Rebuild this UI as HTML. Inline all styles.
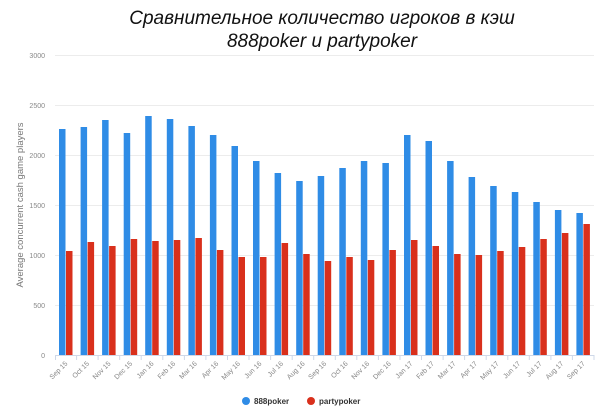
<!DOCTYPE html>
<html><head><meta charset="utf-8"><style>
body{margin:0;background:#fff;width:608px;height:413px;overflow:hidden}
svg{display:block;font-family:"Liberation Sans",sans-serif}
</style></head><body>
<svg width="608" height="413" xmlns="http://www.w3.org/2000/svg">
<text x="322" y="24" text-anchor="middle" font-size="19" font-style="italic" fill="#111">Сравнительное количество игроков в кэш</text>
<text x="322" y="47" text-anchor="middle" font-size="19" font-style="italic" fill="#111">888poker и partypoker</text>
<g stroke="#ececec" stroke-width="1">
<line x1="55" y1="55.5" x2="594" y2="55.5"/><line x1="55" y1="105.5" x2="594" y2="105.5"/><line x1="55" y1="155.5" x2="594" y2="155.5"/><line x1="55" y1="205.5" x2="594" y2="205.5"/><line x1="55" y1="255.5" x2="594" y2="255.5"/><line x1="55" y1="305.5" x2="594" y2="305.5"/>
</g>
<g font-size="7" fill="#888" text-anchor="end">
<text x="45" y="58">3000</text><text x="45" y="108">2500</text><text x="45" y="158">2000</text><text x="45" y="208">1500</text><text x="45" y="258">1000</text><text x="45" y="308">500</text><text x="45" y="358">0</text>
</g>
<text transform="translate(23,205) rotate(-90)" text-anchor="middle" font-size="9.5" fill="#777">Average concurrent cash game players</text>
<g fill="#2f8ce6">
<rect x="59" y="129" width="6.5" height="226"/><rect x="80.6" y="127" width="6.5" height="228"/><rect x="102.1" y="120" width="6.5" height="235"/><rect x="123.7" y="133" width="6.5" height="222"/><rect x="145.2" y="116" width="6.5" height="239"/><rect x="166.8" y="119" width="6.5" height="236"/><rect x="188.4" y="126" width="6.5" height="229"/><rect x="209.9" y="135" width="6.5" height="220"/><rect x="231.5" y="146" width="6.5" height="209"/><rect x="253" y="161" width="6.5" height="194"/><rect x="274.6" y="173" width="6.5" height="182"/><rect x="296.2" y="181" width="6.5" height="174"/><rect x="317.7" y="176" width="6.5" height="179"/><rect x="339.3" y="168" width="6.5" height="187"/><rect x="360.8" y="161" width="6.5" height="194"/><rect x="382.4" y="163" width="6.5" height="192"/><rect x="404" y="135" width="6.5" height="220"/><rect x="425.5" y="141" width="6.5" height="214"/><rect x="447.1" y="161" width="6.5" height="194"/><rect x="468.6" y="177" width="6.5" height="178"/><rect x="490.2" y="186" width="6.5" height="169"/><rect x="511.8" y="192" width="6.5" height="163"/><rect x="533.3" y="202" width="6.5" height="153"/><rect x="554.9" y="210" width="6.5" height="145"/><rect x="576.4" y="213" width="6.5" height="142"/>
</g>
<g fill="#d9301c">
<rect x="66" y="251" width="6.5" height="104"/><rect x="87.6" y="242" width="6.5" height="113"/><rect x="109.1" y="246" width="6.5" height="109"/><rect x="130.7" y="239" width="6.5" height="116"/><rect x="152.2" y="241" width="6.5" height="114"/><rect x="173.8" y="240" width="6.5" height="115"/><rect x="195.4" y="238" width="6.5" height="117"/><rect x="216.9" y="250" width="6.5" height="105"/><rect x="238.5" y="257" width="6.5" height="98"/><rect x="260" y="257" width="6.5" height="98"/><rect x="281.6" y="243" width="6.5" height="112"/><rect x="303.2" y="254" width="6.5" height="101"/><rect x="324.7" y="261" width="6.5" height="94"/><rect x="346.3" y="257" width="6.5" height="98"/><rect x="367.8" y="260" width="6.5" height="95"/><rect x="389.4" y="250" width="6.5" height="105"/><rect x="411" y="240" width="6.5" height="115"/><rect x="432.5" y="246" width="6.5" height="109"/><rect x="454.1" y="254" width="6.5" height="101"/><rect x="475.6" y="255" width="6.5" height="100"/><rect x="497.2" y="251" width="6.5" height="104"/><rect x="518.8" y="247" width="6.5" height="108"/><rect x="540.3" y="239" width="6.5" height="116"/><rect x="561.9" y="233" width="6.5" height="122"/><rect x="583.4" y="224" width="6.5" height="131"/>
</g>
<line x1="55" y1="355.5" x2="594" y2="355.5" stroke="#cfd8e8"/>
<g stroke="#cfd8e8">
<line x1="55.5" y1="355" x2="55.5" y2="360"/><line x1="76.6" y1="355" x2="76.6" y2="360"/><line x1="98.1" y1="355" x2="98.1" y2="360"/><line x1="119.7" y1="355" x2="119.7" y2="360"/><line x1="141.2" y1="355" x2="141.2" y2="360"/><line x1="162.8" y1="355" x2="162.8" y2="360"/><line x1="184.4" y1="355" x2="184.4" y2="360"/><line x1="205.9" y1="355" x2="205.9" y2="360"/><line x1="227.5" y1="355" x2="227.5" y2="360"/><line x1="249" y1="355" x2="249" y2="360"/><line x1="270.6" y1="355" x2="270.6" y2="360"/><line x1="292.2" y1="355" x2="292.2" y2="360"/><line x1="313.7" y1="355" x2="313.7" y2="360"/><line x1="335.3" y1="355" x2="335.3" y2="360"/><line x1="356.8" y1="355" x2="356.8" y2="360"/><line x1="378.4" y1="355" x2="378.4" y2="360"/><line x1="400" y1="355" x2="400" y2="360"/><line x1="421.5" y1="355" x2="421.5" y2="360"/><line x1="443.1" y1="355" x2="443.1" y2="360"/><line x1="464.6" y1="355" x2="464.6" y2="360"/><line x1="486.2" y1="355" x2="486.2" y2="360"/><line x1="507.8" y1="355" x2="507.8" y2="360"/><line x1="529.3" y1="355" x2="529.3" y2="360"/><line x1="550.9" y1="355" x2="550.9" y2="360"/><line x1="572.4" y1="355" x2="572.4" y2="360"/><line x1="594" y1="355" x2="594" y2="360"/>
</g>
<g font-size="7" fill="#888" text-anchor="end">
<text transform="translate(68,364) rotate(-45)">Sep 15</text><text transform="translate(89.6,364) rotate(-45)">Oct 15</text><text transform="translate(111.1,364) rotate(-45)">Nov 15</text><text transform="translate(132.7,364) rotate(-45)">Dec 15</text><text transform="translate(154.2,364) rotate(-45)">Jan 16</text><text transform="translate(175.8,364) rotate(-45)">Feb 16</text><text transform="translate(197.4,364) rotate(-45)">Mar 16</text><text transform="translate(218.9,364) rotate(-45)">Apr 16</text><text transform="translate(240.5,364) rotate(-45)">May 16</text><text transform="translate(262,364) rotate(-45)">Jun 16</text><text transform="translate(283.6,364) rotate(-45)">Jul 16</text><text transform="translate(305.2,364) rotate(-45)">Aug 16</text><text transform="translate(326.7,364) rotate(-45)">Sep 16</text><text transform="translate(348.3,364) rotate(-45)">Oct 16</text><text transform="translate(369.8,364) rotate(-45)">Nov 16</text><text transform="translate(391.4,364) rotate(-45)">Dec 16</text><text transform="translate(413,364) rotate(-45)">Jan 17</text><text transform="translate(434.5,364) rotate(-45)">Feb 17</text><text transform="translate(456.1,364) rotate(-45)">Mar 17</text><text transform="translate(477.6,364) rotate(-45)">Apr 17</text><text transform="translate(499.2,364) rotate(-45)">May 17</text><text transform="translate(520.8,364) rotate(-45)">Jun 17</text><text transform="translate(542.3,364) rotate(-45)">Jul 17</text><text transform="translate(563.9,364) rotate(-45)">Aug 17</text><text transform="translate(585.4,364) rotate(-45)">Sep 17</text>
</g>
<circle cx="246" cy="401" r="4" fill="#2f8ce6"/>
<text x="254" y="404" font-size="8" font-weight="bold" fill="#333">888poker</text>
<circle cx="311" cy="401" r="4" fill="#d9301c"/>
<text x="319" y="404" font-size="8" font-weight="bold" fill="#333">partypoker</text>
</svg>
</body></html>
